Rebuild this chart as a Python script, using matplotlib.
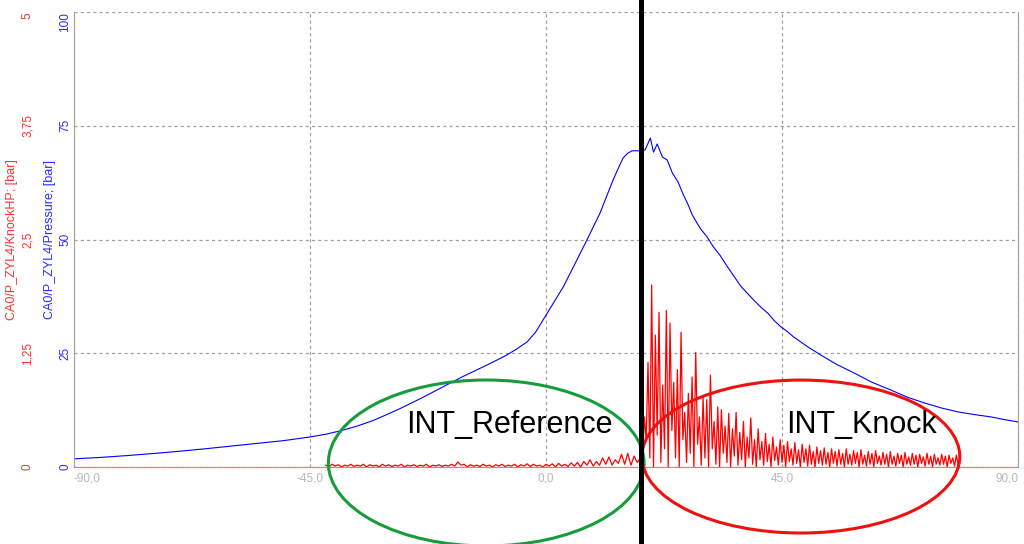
import matplotlib
matplotlib.use("Agg")
import matplotlib.pyplot as plt
from matplotlib.patches import Ellipse
import numpy as np

plt.rcParams['font.family'] = ['Liberation Sans', 'DejaVu Sans']

# cylinder pressure, blue trace (deg CA, bar)
pressure_deg = [-90.0, -85.0, -80.0, -75.0, -70.0, -65.0, -60.0, -55.0, -50.0, -45.0,
                -42.0, -39.0, -36.0, -33.0, -30.0, -27.9, -24.0, -20.0, -16.0, -12.0,
                -9.0, -7.5, -5.5, -3.6, -2.0, -0.2, 1.5, 3.3, 5.5, 7.8,
                10.3, 12.8, 14.0, 14.7, 15.5, 16.4, 18.0, 18.9, 19.9, 20.5,
                21.2, 22.2, 23.1, 24.1, 25.2, 26.2, 27.0, 27.9, 28.7, 29.5,
                30.7, 31.9, 33.2, 34.6, 35.8, 37.1, 38.3, 39.6, 41.0, 42.3,
                43.5, 44.8, 46.0, 47.2, 49.8, 52.4, 55.5, 58.7, 62.0, 65.8,
                69.0, 72.1, 75.3, 78.6, 81.8, 84.9, 87.5, 90.0]
pressure_bar = [1.8, 2.1, 2.5, 2.95, 3.45, 4.0, 4.6, 5.2, 5.8, 6.6,
                7.2, 8.0, 9.0, 10.2, 11.7, 12.8, 15.0, 17.4, 19.8, 22.0,
                23.7, 24.6, 26.0, 27.5, 29.6, 33.0, 36.2, 39.6, 44.6, 49.9,
                55.8, 63.1, 66.2, 67.9, 68.9, 69.5, 69.5, 69.7, 72.3, 69.2,
                71.0, 68.1, 67.5, 64.6, 62.6, 59.8, 57.9, 55.4, 53.8, 52.3,
                50.6, 48.4, 46.5, 44.0, 42.0, 39.8, 38.3, 36.7, 35.1, 33.8,
                32.2, 30.8, 29.8, 28.6, 26.5, 24.6, 22.5, 20.7, 18.7, 16.9,
                15.3, 14.1, 13.0, 12.1, 11.5, 11.0, 10.4, 9.9]

# knock high-pass signal before the window: sampled every 0.6 deg from -42
ref_start, ref_step = -42.0, 0.6
ref_hp = [0.02, 0.0, 0.03, 0.01, 0.025, 0.0, 0.02, 0.01, 0.03, 0.005,
          0.02, 0.01, 0.03, 0.0, 0.025, 0.01, 0.02, 0.0, 0.03, 0.01,
          0.025, 0.005, 0.02, 0.01, 0.03, 0.0, 0.02, 0.01, 0.025, 0.005,
          0.02, 0.01, 0.03, 0.0, 0.02, 0.01, 0.025, 0.005, 0.02, 0.01,
          0.03, 0.01, 0.055, 0.02, 0.03, 0.0, 0.025, 0.01, 0.02, 0.005,
          0.03, 0.01, 0.02, 0.0, 0.025, 0.01, 0.03, 0.005, 0.02, 0.01,
          0.03, 0.0, 0.025, 0.01, 0.035, 0.005, 0.03, 0.01, 0.02, 0.0,
          0.03, 0.01, 0.035, 0.0, 0.04, 0.01, 0.03, 0.005, 0.045, 0.01,
          0.05, 0.0, 0.06, 0.02, 0.08, 0.01, 0.06, 0.02, 0.1, 0.03,
          0.11, 0.02, 0.08, 0.04, 0.14, 0.03, 0.15, 0.02, 0.12, 0.05, 0.1]

# knock oscillation after the window start: trough / peak every 0.35 deg from 18.4
knock_start, knock_step = 18.4, 0.35
knock_troughs = [0.05, 0.3, 0.1, 0.0, 0.35, 0.05, 0.2, 0.0, 0.4, 0.1,
                 0.0, 0.3, 0.05, 0.15, 0.0, 0.25, 0.02, 0.1, 0.0, 0.2,
                 0.03, 0.0, 0.15, 0.05, 0.0, 0.12, 0.02, 0.08, 0.0, 0.1,
                 0.03, 0.0, 0.08, 0.02, 0.06, 0.0, 0.07, 0.02, 0.05, 0.0,
                 0.06, 0.02, 0.04, 0.0, 0.05, 0.01, 0.03, 0.0, 0.04, 0.02,
                 0.03, 0.0, 0.04, 0.01, 0.03, 0.0, 0.03, 0.02, 0.04, 0.0,
                 0.03, 0.01, 0.03, 0.0, 0.04, 0.02, 0.03, 0.0, 0.03, 0.01,
                 0.04, 0.0, 0.03, 0.02, 0.03, 0.0, 0.04, 0.01, 0.03, 0.0,
                 0.03, 0.02, 0.03, 0.0, 0.04, 0.01, 0.02]
knock_peaks = [0.55, 1.15, 2.0, 1.45, 1.7, 0.9, 1.72, 1.58, 0.93, 1.07,
               1.48, 0.6, 0.81, 0.99, 1.26, 0.55, 0.77, 0.74, 1.01, 0.5,
               0.66, 0.63, 0.45, 0.59, 0.42, 0.6, 0.38, 0.5, 0.33, 0.54,
               0.3, 0.42, 0.28, 0.37, 0.25, 0.33, 0.22, 0.3, 0.24, 0.28,
               0.2, 0.27, 0.19, 0.25, 0.2, 0.24, 0.17, 0.22, 0.18, 0.21,
               0.16, 0.2, 0.17, 0.19, 0.15, 0.2, 0.14, 0.18, 0.16, 0.19,
               0.13, 0.17, 0.15, 0.18, 0.12, 0.16, 0.14, 0.17, 0.12, 0.15,
               0.13, 0.16, 0.11, 0.15, 0.13, 0.14, 0.11, 0.15, 0.12, 0.14,
               0.1, 0.14, 0.12, 0.13, 0.1, 0.13, 0.11]

window_deg = 18.2

x_ticks = [-90, -45, 0, 45, 90]
x_labels = ['-90,0', '-45,0', '0,0', '45,0', '90,0']
p_ticks = [0, 25, 50, 75, 100]
p_labels = ['0', '25', '50', '75', '100']
k_ticks = [0, 1.25, 2.5, 3.75, 5]
k_labels = ['0', '1,25', '2,5', '3,75', '5']

# build the knock trace
ref_x = ref_start + ref_step * np.arange(len(ref_hp))
n = len(knock_peaks) + len(knock_troughs)
knock_x = knock_start + knock_step * np.arange(n)
knock_y = np.empty(n)
knock_y[0::2] = knock_troughs
knock_y[1::2] = knock_peaks
hp_x = np.concatenate([ref_x, knock_x])
hp_y = np.concatenate([ref_hp, knock_y])

fig = plt.figure(figsize=(10.24, 5.44), dpi=100)
ax = fig.add_axes([74/1024, 1 - 467/544, 944/1024, 455/544])
ax2 = ax.twinx()

ax.plot(pressure_deg, pressure_bar, color='#0000ff', lw=0.8)
ax2.plot(hp_x, hp_y, color='#ff0000', lw=0.9)

ax.set_xlim(-90, 90)
ax.set_ylim(0, 100)
ax2.set_ylim(0, 5)

ax.grid(True, color='#a0a0a0', linestyle=(0, (2.5, 2.5)), lw=0.9)
ax.set_axisbelow(True)

ax.spines['top'].set_visible(False)
ax.spines['left'].set_color('#a0a0a0')
ax.spines['right'].set_color('#a0a0a0')
ax.spines['bottom'].set_color('#ff7070')
for s in ax2.spines.values():
    s.set_visible(False)

ax.set_xticks(x_ticks, x_labels)
ax.tick_params(axis='x', length=0, pad=4, labelsize=8.5, labelcolor='#b8b8b8')
xl = ax.get_xticklabels()
xl[0].set_ha('left')
xl[-1].set_ha('right')

ax.set_yticks(p_ticks, p_labels)
ax.tick_params(axis='y', length=0, pad=2, labelsize=8.5, labelcolor='#2a2aff', labelrotation=90)
for lab in ax.get_yticklabels():
    lab.set_va('center')
ax.get_yticklabels()[-1].set_va('top')

ax2.yaxis.tick_left()
ax2.yaxis.set_label_position('left')
ax2.set_yticks(k_ticks, k_labels)
ax2.tick_params(axis='y', length=0, pad=29, labelsize=8.5, labelcolor='#ff3030', labelrotation=90)
for lab in ax2.get_yticklabels():
    lab.set_va('center')
ax2.get_yticklabels()[-1].set_va('top')

ax.set_ylabel('CA0/P_ZYL4/Pressure; [bar]', color='#2a2aff', fontsize=9)
ax.yaxis.set_label_coords(-0.019, 0.5)
ax2.set_ylabel('CA0/P_ZYL4/KnockHP; [bar]', color='#ff3030', fontsize=9)
ax2.yaxis.set_label_coords(-0.059, 0.5)

# evaluation windows
ax2.add_patch(Ellipse((-11.4, 0.044), 60.2, 1.824, fill=False, edgecolor='#179c3c',
                      lw=2.2, clip_on=False, zorder=5))
ax2.add_patch(Ellipse((48.6, 0.115), 60.6, 1.681, fill=False, edgecolor='#f01010',
                      lw=2.2, clip_on=False, zorder=5))
ax2.text(-6.9, 0.374, 'INT_Reference', fontsize=22, ha='center', va='baseline', zorder=6)
ax2.text(60.2, 0.374, 'INT_Knock', fontsize=22, ha='center', va='baseline', zorder=6)

ax2.axvline(window_deg, ymin=-0.2, ymax=1.1, color='black', lw=3.6, clip_on=False, zorder=7)
ax2.set_ylim(0, 5)

fig.savefig('out.png', dpi=100)
